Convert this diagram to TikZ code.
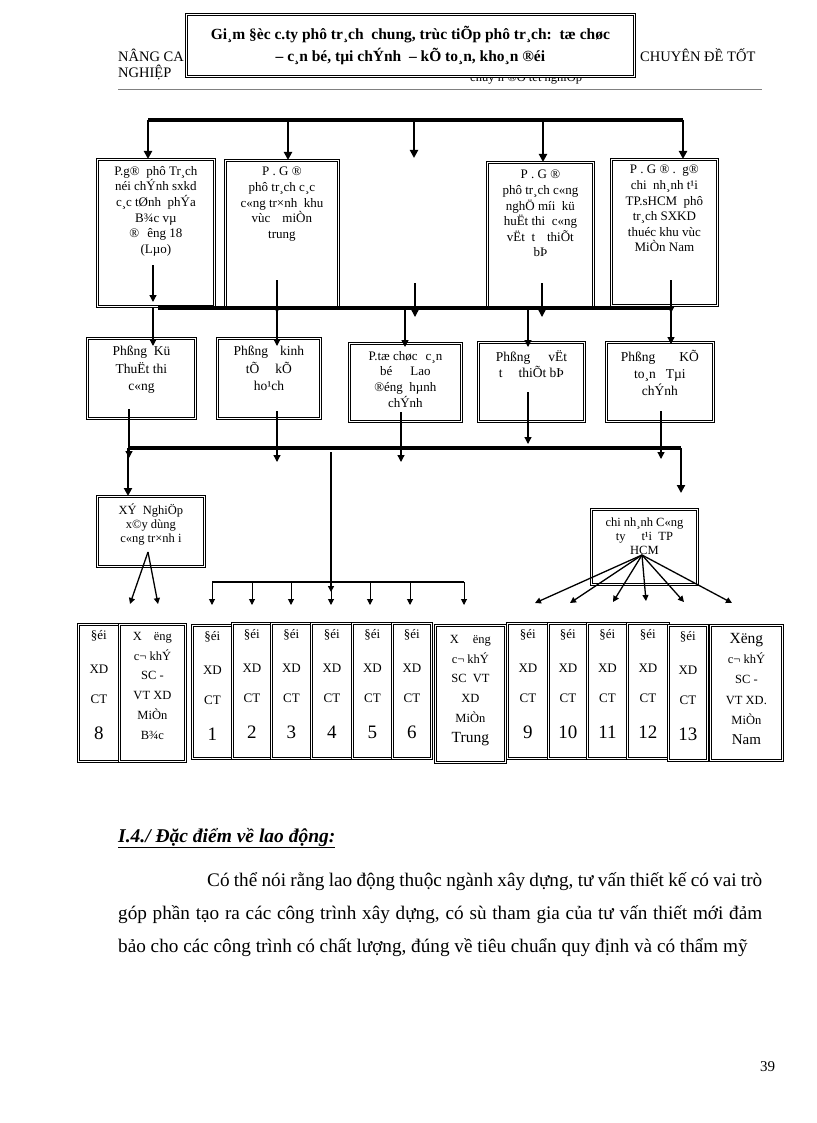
\documentclass[tikz,border=0pt]{standalone}
\usepackage{fontspec}
\setmainfont{Liberation Serif}
\usetikzlibrary{arrows.meta}
\newcommand\pbox[5]{\node[dbox, anchor=north west, minimum width={(#4)-(#2)}, minimum height={(#5)-(#3)}] (#1) at (#2,#3) {};}
\newcommand\doi[6]{%
  \pbox{#1}{#2}{#3}{#4}{#5}
  \node[ctext] (#1a) at ([yshift=-12pt]#1.north) {§éi};
  \node[ctext] (#1b) at ([yshift=-45pt]#1.north) {XD};
  \node[ctext] (#1c) at ([yshift=-75pt]#1.north) {CT};
  \node[numtext] (#1d) at ([yshift=-109pt]#1.north) {#6};
}
\begin{document}
\begin{tikzpicture}[x=1pt,y=-1pt,
  dbox/.style={draw, double, double distance=1.4pt, line width=0.8pt, fill=white, inner sep=0pt},
  btext/.style={font=\fontsize{13}{15.6}\selectfont, align=center, inner sep=0pt, anchor=north},
  ctext/.style={font=\fontsize{13}{14}\selectfont, inner sep=0pt},
  numtext/.style={font=\fontsize{19}{20}\selectfont, inner sep=0pt},
  xtext/.style={font=\fontsize{12.5}{19.8}\selectfont, align=center, inner sep=0pt, anchor=north},
  bus/.style={line width=3.5pt},
  drop/.style={line width=2.5pt, -{Triangle[length=8pt,width=8pt]}},
  mid/.style={line width=1.3pt, -{Triangle[length=7pt,width=7pt]}},
  small/.style={line width=1pt, -{Triangle[length=6pt,width=6pt]}},
  plain/.style={anchor=base west, inner sep=0pt}
]
\useasboundingbox (0,0) rectangle (816,1123);

% ---------- page header ----------
\node[plain, font=\fontsize{14.5}{16}\selectfont] (h1) at (118,62) {NÂNG CA};
\node[plain, font=\fontsize{14.5}{16}\selectfont] (h2) at (118,78) {NGHIỆP};
\node[plain, font=\fontsize{14.5}{16}\selectfont] (h3) at (640,62) {CHUYÊN ĐỀ TỐT};
\node[plain, font=\fontsize{12.5}{14}\selectfont] (h4) at (470,82) {chuyªn ®Ò tèt nghiÖp};
\coordinate (hl1) at (118,90);
\coordinate (hl2) at (762,90);
\draw[gray, line width=1pt] (hl1) -- (hl2);

\pbox{gd}{186}{14}{634}{76}
\node[font=\bfseries\fontsize{15.5}{22}\selectfont, align=center, inner sep=0pt] (gdt) at (gd.center)
 {Gi¸m §èc c.ty phô tr¸ch\ \ chung,\ trùc tiÕp phô tr¸ch:\ \ tæ chøc\\– c¸n bé, tµi chÝnh\ \ – kÕ to¸n, kho¸n ®éi};

% ---------- top bus ----------
\coordinate (t1) at (148,120);
\coordinate (t2) at (288,120);
\coordinate (t3) at (414,120);
\coordinate (t4) at (543,120);
\coordinate (t5) at (683,120);
\coordinate (t3e) at (414,158);
\draw[bus] (t1) -- (t5);

% ---------- second row ----------
\pbox{b1}{97}{159}{214}{306}
\pbox{b2}{225}{160}{338}{307}
\pbox{b3}{487}{162}{593}{307}
\pbox{b4}{611}{159}{717}{305}
\node[btext] (b1t) at ([yshift=-7pt]b1.north) {P.g®\ \ phô Tr¸ch\\néi chÝnh sxkd\\c¸c tØnh\ \ phÝa\\B¾c vµ\\®\hspace{8pt}êng 18\\(Lµo)};
\node[btext] (b2t) at ([yshift=-7pt]b2.north) {P . G ®\\phô tr¸ch c¸c\\c«ng tr×nh\ \ khu\\vùc\hspace{12pt}miÒn\\trung};
\node[btext] (b3t) at ([yshift=-8pt]b3.north) {P . G ®\\phô tr¸ch c«ng\\nghÖ míi\ \ kü\\huËt thi\ \ c«ng\\vËt\ \ t\hspace{12pt}thiÕt\\bÞ};
\node[btext] (b4t) at ([yshift=-6pt]b4.north) {P . G ® .\ \ g®\\chi\ \ nh¸nh t¹i\\TP.sHCM\ \ phô\\tr¸ch SXKD\\thuéc khu vùc\\MiÒn Nam};

\draw[drop] (t1) -- (t1 |- b1.north);
\draw[drop] (t2) -- (t2 |- b2.north);
\draw[drop] (t3) -- (t3e);
\draw[drop] (t4) -- (t4 |- b3.north);
\draw[drop] (t5) -- (t5 |- b4.north);

% ---------- second bus ----------
\coordinate (s0) at (158,308);
\coordinate (s6) at (672,308);
\draw[bus] (s0) -- (s6);
\coordinate (i1) at (153,265);
\coordinate (i2) at (277,280);
\coordinate (i3) at (415,283);
\coordinate (i4) at (542,283);
\coordinate (i5) at (671,280);
\draw[mid] (i1) -- (153,302);
\draw[mid] (i2) -- (277,313);
\draw[mid] (i3) -- (415,317);
\draw[mid] (i4) -- (542,317);
\draw[mid] (i5) -- (671,313);

% ---------- third row ----------
\pbox{c1}{87}{338}{195}{418}
\pbox{c2}{217}{338}{320}{418}
\pbox{c3}{349}{343}{461}{421}
\pbox{c4}{478}{342}{584}{421}
\pbox{c5}{606}{342}{713}{421}
\node[btext, font=\fontsize{13.5}{17.5}\selectfont] (c1t) at ([yshift=-8pt]c1.north) {Phßng\ \ Kü\\ThuËt thi\\c«ng};
\node[btext, font=\fontsize{13.5}{17.5}\selectfont] (c2t) at ([yshift=-8pt]c2.north) {Phßng\hspace{12pt}kinh\\tÕ\hspace{16pt}kÕ\\ho¹ch};
\node[btext] (c3t) at ([yshift=-8pt]c3.north) {P.tæ chøc\hspace{8pt}c¸n\\bé\hspace{18pt}Lao\\®éng\ \ hµnh\\chÝnh};
\node[btext, font=\fontsize{13.5}{16}\selectfont] (c4t) at ([yshift=-8pt]c4.north) {Phßng\hspace{18pt}vËt\\t\hspace{16pt}thiÕt bÞ};
\node[btext, font=\fontsize{13.5}{17}\selectfont] (c5t) at ([yshift=-8pt]c5.north) {Phßng\hspace{24pt}KÕ\\to¸n\ \ \ Tµi\\chÝnh};

\coordinate (s1) at (153,308);
\coordinate (s2) at (277,308);
\coordinate (s3) at (405,308);
\coordinate (s4) at (528,308);
\coordinate (s5) at (671,308);
\draw[mid] (s1) -- ([yshift=-8pt]c1.north -| s1);
\draw[mid] (s2) -- ([yshift=-8pt]c2.north -| s2);
\draw[mid] (s3) -- ([yshift=-4pt]c3.north -| s3);
\draw[mid] (s4) -- ([yshift=-5pt]c4.north -| s4);
\draw[mid] (s5) -- ([yshift=-2pt]c5.north -| s5);

% ---------- third bus ----------
\coordinate (u0) at (128,448);
\coordinate (u9) at (681,448);
\coordinate (uc) at (331,452);
\draw[bus] (u0) -- (u9);
\coordinate (j1) at (129,409);
\coordinate (j2) at (277,411);
\coordinate (j3) at (401,412);
\coordinate (j4) at (528,392);
\coordinate (j5) at (661,411);
\draw[mid] (j1) -- (129,458);
\draw[mid] (j2) -- (277,462);
\draw[mid] (j3) -- (401,462);
\draw[mid] (j4) -- (528,444);
\draw[mid] (j5) -- (661,459);

% ---------- fourth row ----------
\pbox{xn}{97}{496}{204}{566}
\pbox{cn}{591}{509}{697}{584}
\node[btext, font=\fontsize{12.5}{14}\selectfont] (xnt) at ([yshift=-8pt]xn.north) {XÝ\ \ NghiÖp\\x©y dùng\\c«ng tr×nh i};
\node[btext, font=\fontsize{12.5}{14}\selectfont] (cnt) at ([yshift=-9pt]cn.north) {chi nh¸nh C«ng\\ty\hspace{16pt}t¹i\ \ TP\\HCM};
\draw[drop] (u0) -- (u0 |- xn.north);
\draw[drop] (u9) -- ([yshift=16pt]cn.north -| u9);

% arrows out of XN
\coordinate (xo) at (148,552);
\coordinate (xe1) at (130,604);
\coordinate (xe2) at (158,604);
\draw[small, line width=1.3pt] (xo) -- (xe1);
\draw[small, line width=1.3pt] (xo) -- (xe2);

% arrows out of CN
\coordinate (co) at (642,555);
\coordinate (ce1) at (535,603);
\coordinate (ce2) at (570,603);
\coordinate (ce3) at (613,602);
\coordinate (ce4) at (646,601);
\coordinate (ce5) at (684,602);
\coordinate (ce6) at (732,603);
\foreach \e in {ce1,ce2,ce3,ce4,ce5,ce6} \draw[small, line width=1.3pt] (co) -- (\e);

% ---------- bottom bus ----------
\coordinate (v0) at (212,582);
\coordinate (v9) at (464,582);
\draw[line width=2pt] (v0) -- (v9);
\draw[small, line width=1.8pt] (uc) -- (331,592);
\foreach \x [count=\k] in {212,252,291,331,370,410,464} {
  \coordinate (vb\k) at (\x,582);
  \coordinate (ve\k) at (\x,605);
  \draw[small] (vb\k) -- (ve\k);
}

% ---------- bottom boxes ----------
\doi{da}{78}{624}{119}{761}{8}
\pbox{dx1}{119}{624}{185}{761}
\node[xtext] (dx1t) at ([yshift=-8pt]dx1.north) {X\hspace{12pt}ëng\\c¬ khÝ\\SC -\\VT XD\\MiÒn\\B¾c};
\doi{db}{192}{625}{232}{758}{1}
\doi{dc}{232}{623}{271}{758}{2}
\doi{dd}{271}{623}{311}{758}{3}
\doi{de}{311}{623}{352}{758}{4}
\doi{df}{352}{623}{392}{758}{5}
\doi{dg}{392}{623}{431}{758}{6}
\pbox{dx2}{435}{625}{505}{762}
\node[xtext] (dx2t) at ([yshift=-10pt]dx2.north) {X\hspace{14pt}ëng\\c¬ khÝ\\SC\ \ VT\\XD\\MiÒn\\{\fontsize{15.5}{16}\selectfont Trung}};
\doi{dh}{507}{623}{548}{758}{9}
\doi{di}{548}{623}{587}{758}{10}
\doi{dj}{587}{623}{627}{758}{11}
\doi{dk}{627}{623}{668}{758}{12}
\doi{dl}{668}{625}{707}{760}{13}
\pbox{dx3}{710}{625}{782}{760}
\node[xtext, font=\fontsize{12.5}{20.3}\selectfont] (dx3t) at ([yshift=-8pt]dx3.north) {{\fontsize{15.5}{16}\selectfont Xëng}\\c¬ khÝ\\SC -\\VT XD.\\MiÒn\\{\fontsize{15}{16}\selectfont Nam}};

% ---------- body text ----------
\node[plain, font=\bfseries\itshape\fontsize{19.5}{22}\selectfont] (sec) at (118,842) {\underline{I.4./ Đặc điểm về lao động:}};
\node[plain, font=\fontsize{19.2}{22}\selectfont] (p1) at (207,886) {\makebox[555pt][s]{Có thể nói rằng lao động thuộc ngành xây dựng, tư vấn thiết kế có vai trò}};
\node[plain, font=\fontsize{19.2}{22}\selectfont] (p2) at (118,919) {\makebox[644pt][s]{góp phần tạo ra các công trình xây dựng, có sù tham gia của tư vấn thiết mới đảm}};
\node[plain, font=\fontsize{19.2}{22}\selectfont] (p3) at (118,952) {bảo cho các công trình có chất lượng, đúng về tiêu chuẩn quy định và có thẩm mỹ};
\node[plain, font=\fontsize{15}{16}\selectfont] (pg) at (760,1071) {39};
\end{tikzpicture}
\end{document}
